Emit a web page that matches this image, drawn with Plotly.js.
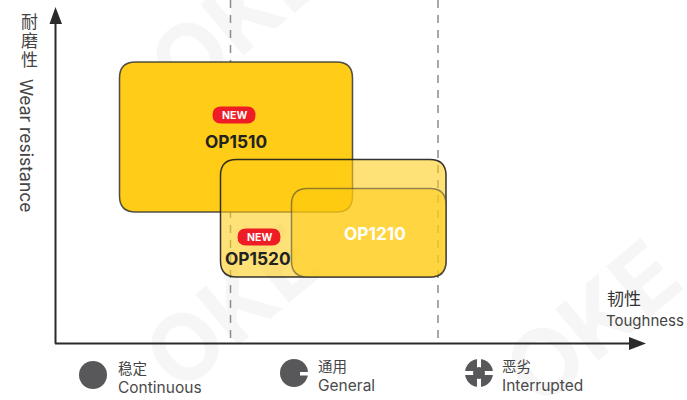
<!DOCTYPE html>
<html><head><meta charset="utf-8">
<script src="https://cdn.plot.ly/plotly-3.0.1.min.js"></script>
<style>html,body{margin:0;padding:0;background:#fff}#c{width:687px;height:400px}</style></head>
<body><div id="c"></div>
<script>
const FONT = 'Inter,"Noto Sans CJK SC",sans-serif';
const gradeNames = ['OP1510','OP1520','OP1210'];
const gradeX0 = [119.5,220.5,291.5];
const gradeX1 = [352.5,446,446];
const gradeY0 = [62,159.5,188.5];
const gradeY1 = [212,277,277];
const gradeFill = ['#FFCD17','rgba(255,205,20,0.58)','rgba(255,201,12,0.5)'];
const gradeLine = ['rgba(50,50,50,0.85)','rgba(30,30,30,0.9)','rgba(60,60,60,0.55)'];
const gradeLabelX = [236,258,375];
const gradeLabelY = [141,258,233];
const gradeLabelColor = ['#222222','#222222','#ffffff'];
const newX = [234,259];
const newY = [115,237];
const dividers = [230.5,438];
const wearCn = ['耐','磨','性'];
const wearCnY = [22,41,60];
const conditionsCn = ['稳定','通用','恶劣'];
const conditionsEn = ['Continuous','General','Interrupted'];
const condIconX = [93,294,479];
const condIconY = [375,373,373];
const condTextX = [117,317,501];
const condCnY = [368,366,366];
const condEnY = [387,385,385];
const watermarkText = ['OKE','OKE','OKE'];
const watermarkX = [235,230,590];
const watermarkY = [15,305,320];

const R = 16, G = '#58585A';
function rr(x0,y0,x1,y1,r){
  return `M${x0+r},${y0}L${x1-r},${y0}Q${x1},${y0} ${x1},${y0+r}L${x1},${y1-r}Q${x1},${y1} ${x1-r},${y1}L${x0+r},${y1}Q${x0},${y1} ${x0},${y1-r}L${x0},${y0+r}Q${x0},${y0} ${x0+r},${y0}Z`;
}
const shapes = [];
const ann = [];
const text = (x,y,t,size,color,o={}) => ann.push(Object.assign({x,y,text:t,showarrow:false,xref:'x',yref:'y',
  borderpad:0,xanchor:'center',yanchor:'middle',font:{family:FONT,size,color}},o));

watermarkText.forEach((t,i) => shapes.push({type:'rect',layer:'below',
  x0:watermarkX[i]-10,x1:watermarkX[i]+10,y0:watermarkY[i]-10,y1:watermarkY[i]+10,
  fillcolor:'rgba(0,0,0,0)',line:{width:0},
  label:{text:'<b>'+t+'</b>',textangle:-40,textposition:'middle center',
    font:{family:FONT,size:92,color:'#F6F6F6'}}}));

const traces = dividers.map(x => ({type:'scatter',mode:'lines',x:[x,x],y:[0,343],hoverinfo:'skip',
  line:{color:'#8C8C8C',width:1.5,dash:'8px,7px'}}));

gradeNames.forEach((n,i) => {
  shapes.push({type:'path',layer:'above',path:rr(gradeX0[i],gradeY0[i],gradeX1[i],gradeY1[i],R),
    fillcolor:gradeFill[i],line:{color:gradeLine[i],width:1.5}});
  text(gradeLabelX[i],gradeLabelY[i],'<b>'+n+'</b>',17.3,gradeLabelColor[i]);
});
newX.forEach((x,i) => {
  shapes.push({type:'path',layer:'above',path:rr(x-21.5,newY[i]-8.5,x+21.5,newY[i]+8.5,8.5),fillcolor:'#EE1C25',line:{width:0}});
  text(x,newY[i],'<b>NEW</b>',10.5,'#ffffff');
});
shapes.push({type:'line',layer:'above',x0:55.5,x1:55.5,y0:343.5,y1:20,line:{color:'#2B2B2B',width:2}});
shapes.push({type:'line',layer:'above',x0:55,x1:632,y0:343.5,y1:343.5,line:{color:'#2B2B2B',width:2}});
shapes.push({type:'path',layer:'above',path:'M55.5,7L62,24L49.5,24Z',fillcolor:'#2B2B2B',line:{width:0}});
shapes.push({type:'path',layer:'above',path:'M646,343.5L629,337L629,350Z',fillcolor:'#2B2B2B',line:{width:0}});

wearCn.forEach((c,i) => text(29,wearCnY[i],c,17,'#444444'));
text(27,145,'Wear resistance',17.5,'#444444',{textangle:90});
text(624,299,'韧性',17,'#333333');
text(645,320,'Toughness',15,'#444444');

conditionsCn.forEach((c,i) => {
  const x=condIconX[i], y=condIconY[i], r=14;
  shapes.push({type:'circle',layer:'above',x0:x-r,x1:x+r,y0:y-r,y1:y+r,fillcolor:G,line:{width:0}});
  text(condTextX[i],condCnY[i],c,14.5,'#444444',{xanchor:'left'});
  text(condTextX[i],condEnY[i],conditionsEn[i],15.5,'#4A4A4A',{xanchor:'left'});
});
shapes.push({type:'rect',layer:'above',x0:300,x1:309,y0:372,y1:375.5,fillcolor:'#fff',line:{width:0}});
shapes.push({type:'rect',layer:'above',x0:464,x1:494,y0:371,y1:375,fillcolor:'#fff',line:{width:0}});
shapes.push({type:'rect',layer:'above',x0:477,x1:481,y0:358,y1:388,fillcolor:'#fff',line:{width:0}});
shapes.push({type:'circle',layer:'above',x0:473,x1:485,y0:367,y1:379,fillcolor:G,line:{width:0}});

Plotly.newPlot('c',traces,{
  width:687,height:400,margin:{l:0,r:0,t:0,b:0},showlegend:false,
  paper_bgcolor:'#fff',plot_bgcolor:'rgba(0,0,0,0)',
  xaxis:{range:[0,687],visible:false,fixedrange:true},
  yaxis:{range:[400,0],visible:false,fixedrange:true},
  shapes,annotations:ann
},{displayModeBar:false,staticPlot:true});
</script></body></html>
